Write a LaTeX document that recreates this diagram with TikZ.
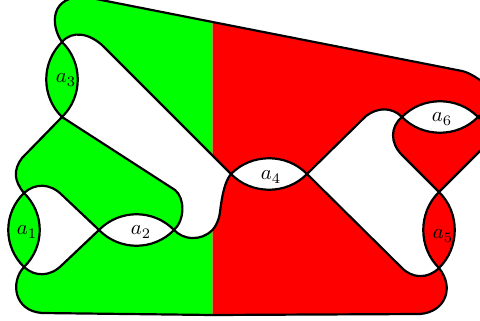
\documentclass[tikz,border=0pt]{standalone}
\usepackage{amsmath}
\usetikzlibrary{calc}
\tikzset{
	strand/.style={line width=1.25pt,line join=round},
	lenslabel/.style={inner sep=0pt,scale=1.18}
}
\begin{document}
\begin{tikzpicture}[x=0.02cm,y=-0.02cm]
	\useasboundingbox (0,0) rectangle (480,321);
	% crossings
	\coordinate (a1n) at (24,193); \coordinate (a1s) at (24,267);
	\coordinate (a2w) at (99,230); \coordinate (a2e) at (174,230);
	\coordinate (a3n) at (62,42); \coordinate (a3s) at (62,117);
	\coordinate (a4w) at (231,174); \coordinate (a4e) at (307,174);
	\coordinate (a5n) at (439,192); \coordinate (a5s) at (439,268);
	\coordinate (a6w) at (402,117); \coordinate (a6e) at (478,117);
	\coordinate (topmid) at (212.5,22); \coordinate (innermid) at (212.5,155);
	\coordinate (hookmid) at (212.5,230); \coordinate (botmid) at (212.5,315);
	% green part
	\fill[green] (a3n) .. controls (50,25) and (50,-5) .. (86,-3) -- (topmid) -- (innermid) -- (104,47)
		.. controls (90,33) and (72,30) .. (a3n) -- cycle;
	\fill[green] (a3s) -- (175,190) .. controls (185,198) and (185,220) .. (a2e)
		.. controls +(-20.5,-21) and +(20.5,-21) .. (a2w) -- (62,195)
		.. controls (50,183) and (35,183) .. (a1n) .. controls (14,181) and (13,170) .. (22,158) -- cycle;
	\fill[green] (a1s) .. controls (10,282) and (14,311) .. (42,313) -- (botmid) -- (hookmid)
		.. controls (206,236) and (200,238) .. (193,238) .. controls (185,238) and (179,235) .. (a2e)
		.. controls +(-20.5,21) and +(20.5,21) .. (a2w)
		-- (62,265) .. controls (50,277) and (35,277) .. (a1s) -- cycle;
	% red part
	\fill[red] (topmid) -- (462,71) .. controls (470,73) and (478,78) .. (490,88)
		.. controls (495,100) and (488,110) .. (a6e)
		.. controls +(-20.5,-21) and +(20.5,-21) .. (a6w) .. controls (392,107) and (378,107) .. (366,116)
		-- (a4e) .. controls +(-20.5,-21) and +(20.5,-21) .. (a4w) -- (innermid) -- cycle;
	\fill[red] (a4w) .. controls (225,181) and (222,195) .. (220,212) .. controls (219,220) and (216,226) .. (hookmid)
		-- (botmid) -- (420,314)
		.. controls (445,312) and (455,288) .. (a5s) .. controls (428,279) and (412,279) .. (401,267)
		-- (a4e) .. controls +(-20.5,21) and +(20.5,21) .. (a4w) -- cycle;
	\fill[red] (a6w) .. controls (390,127) and (390,143) .. (402,155) -- (a5n) -- (484,147)
		.. controls (490,135) and (488,125) .. (a6e) .. controls +(-20.5,21) and +(20.5,21) .. (a6w) -- cycle;
	% lenses
	\foreach \n/\c in {a1/green,a3/green,a5/red}{
		\draw[strand,fill=\c] (\n n) .. controls +(-21,20.5) and +(-21,-20.5) .. (\n s)
			.. controls +(21,-20.5) and +(21,20.5) .. (\n n) -- cycle;
	}
	\foreach \n in {a2,a4,a6}{
		\draw[strand] (\n w) .. controls +(20.5,-21) and +(-20.5,-21) .. (\n e)
			.. controls +(-20.5,21) and +(20.5,21) .. (\n w) -- cycle;
	}
	% strands
	\draw[strand] (a3n) .. controls (50,25) and (50,-5) .. (86,-3) -- (topmid) -- (462,71)
		.. controls (470,73) and (478,78) .. (490,88);
	\draw[strand] (a3n) .. controls (72,30) and (90,33) .. (104,47) -- (a4w)
		.. controls (225,181) and (222,195) .. (220,212) .. controls (219,220) and (216,226) .. (hookmid)
		.. controls (206,236) and (200,238) .. (193,238) .. controls (185,238) and (179,235) .. (a2e)
		.. controls (185,220) and (185,198) .. (175,190) -- (a3s) -- (22,158)
		.. controls (13,170) and (14,181) .. (a1n) .. controls (35,183) and (50,183) .. (62,195)
		-- (a2w) -- (62,265) .. controls (50,277) and (35,277) .. (a1s)
		.. controls (10,282) and (14,311) .. (42,313) -- (botmid) -- (420,314)
		.. controls (445,312) and (455,288) .. (a5s) .. controls (428,279) and (412,279) .. (401,267)
		-- (a4e) -- (366,116) .. controls (378,107) and (392,107) .. (a6w)
		.. controls (390,127) and (390,143) .. (402,155) -- (a5n) -- (484,147);
	\draw[strand] (a6e) .. controls (488,125) and (490,135) .. (484,147);
	\draw[strand] (a6e) .. controls (488,110) and (495,100) .. (490,88);
	% labels
	\node[lenslabel] (l1) at (27,232) {$a_1$};
	\node[lenslabel] (l2) at (141,232) {$a_2$};
	\node[lenslabel] (l3) at (66,80) {$a_3$};
	\node[lenslabel] (l4) at (271,177) {$a_4$};
	\node[lenslabel] (l5) at (443,236) {$a_5$};
	\node[lenslabel] (l6) at (442,119) {$a_6$};
\end{tikzpicture}
\end{document}
